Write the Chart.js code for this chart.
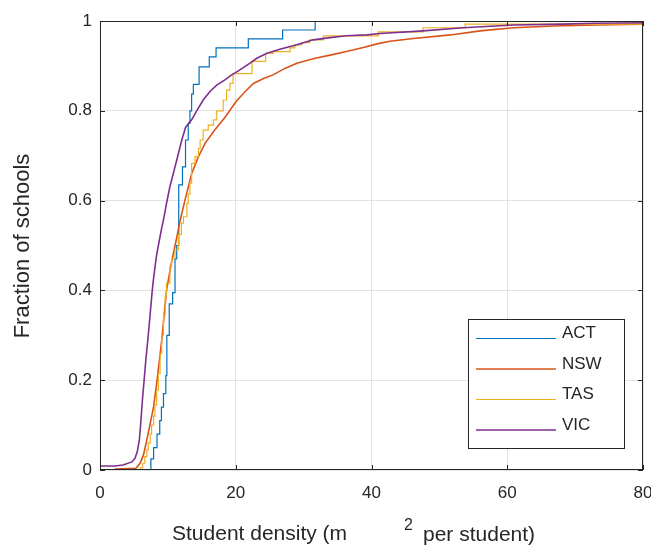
<!DOCTYPE html>
<html>
<head>
<meta charset="utf-8">
<script src="https://cdn.jsdelivr.net/npm/chart.js@4/dist/chart.umd.min.js"></script>
<style>
  html, body { margin: 0; padding: 0; background: #fff; }
</style>
</head>
<body>
<canvas id="myChart" width="651" height="550"></canvas>
<script>
// ECDF of student density
var labels = ["ACT", "NSW", "TAS", "VIC"];

var actX = [7.5, 7.5, 7.9, 8.4, 8.8, 9.05, 9.35, 9.7, 9.85, 10.2, 10.7, 11.05, 11.3, 11.6, 12.15, 12.6, 13.0, 13.25, 13.5, 13.75, 14.6, 16.1, 17.1, 21.85, 26.9, 31.7];
var actY = [0, 0.025, 0.05, 0.08, 0.11, 0.14, 0.17, 0.21, 0.3, 0.37, 0.395, 0.47, 0.5, 0.635, 0.675, 0.735, 0.772, 0.8, 0.837, 0.859, 0.898, 0.92, 0.94, 0.96, 0.98, 1.0];

var nswX = [2.2, 5.3, 5.9, 6.4, 6.9, 7.4, 7.9, 8.35, 8.75, 9.1, 9.8, 10.5, 11.2, 11.8, 12.5, 13.5, 14.5, 15.5, 16.9, 18.4, 20.1, 21.4, 22.6, 24.1, 25.5, 27.3, 29.0, 31.7, 33.9, 36.3, 38.8, 40.8, 42.7, 46.2, 51.6, 56.0, 60.9, 66.8, 73.2, 80];
var nswY = [0.002, 0.004, 0.015, 0.033, 0.067, 0.104, 0.141, 0.193, 0.245, 0.29, 0.4, 0.46, 0.51, 0.555, 0.6, 0.66, 0.698, 0.728, 0.757, 0.785, 0.822, 0.843, 0.861, 0.872, 0.88, 0.895, 0.906, 0.917, 0.924, 0.932, 0.941, 0.949, 0.955, 0.961, 0.969, 0.978, 0.985, 0.989, 0.991, 0.993];

var tasX = [6.0, 6.0, 6.3, 6.6, 6.9, 7.1, 7.4, 7.6, 7.9, 8.1, 8.35, 8.6, 8.85, 9.1, 9.35, 9.6, 9.8, 10.3, 10.55, 11.05, 11.55, 12.0, 12.3, 12.8, 13.0, 13.25, 13.5, 14.0, 14.5, 14.75, 15.2, 15.95, 16.7, 17.2, 18.15, 18.65, 19.15, 19.6, 22.4, 24.4, 25.5, 28.0, 28.7, 29.7, 30.9, 32.9, 41.0, 47.6, 53.8, 85];
var tasY = [0, 0.005, 0.015, 0.03, 0.045, 0.06, 0.08, 0.1, 0.12, 0.145, 0.178, 0.215, 0.26, 0.3, 0.345, 0.386, 0.416, 0.453, 0.471, 0.49, 0.525, 0.55, 0.564, 0.594, 0.615, 0.639, 0.683, 0.698, 0.716, 0.735, 0.757, 0.768, 0.78, 0.8, 0.824, 0.846, 0.861, 0.883, 0.91, 0.928, 0.932, 0.94, 0.947, 0.952, 0.958, 0.967, 0.976, 0.985, 0.993, 0.993];

var vicX = [0, 2.2, 3.4, 4.7, 5.15, 5.5, 5.8, 6.0, 6.25, 6.5, 6.75, 7.05, 7.35, 7.55, 7.75, 8.0, 8.3, 8.6, 9.1, 9.35, 9.8, 10.3, 11.05, 11.55, 12.05, 12.6, 13.5, 14.25, 15.2, 16.2, 17.2, 18.4, 19.4, 20.5, 22.1, 23.1, 24.6, 26.5, 29.0, 31.4, 33.9, 36.3, 39.3, 41.25, 47.6, 53.5, 60.9, 68.3, 72.7, 80];
var vicY = [0.009, 0.009, 0.011, 0.018, 0.026, 0.041, 0.067, 0.104, 0.156, 0.2, 0.245, 0.29, 0.34, 0.375, 0.408, 0.44, 0.475, 0.5, 0.54, 0.557, 0.594, 0.631, 0.675, 0.705, 0.735, 0.763, 0.78, 0.8, 0.824, 0.843, 0.857, 0.869, 0.88, 0.89, 0.906, 0.917, 0.928, 0.937, 0.947, 0.958, 0.963, 0.967, 0.969, 0.972, 0.978, 0.985, 0.991, 0.993, 0.995, 0.996];

var xTicks = [0, 20, 40, 60, 80];
var yTicks = [0, 0.2, 0.4, 0.6, 0.8, 1];

var colors = ["#0072BD", "#D95319", "#EDB120", "#7E2F8E"];
var font = "'Liberation Sans', Arial, Helvetica, sans-serif";
var ink = "#262626";

function pts(xs, ys) {
  return xs.map(function(v, i) { return { x: v, y: ys[i] }; });
}

// MATLAB-style box, inward ticks, legend box and axis titles
var matlabLook = {
  id: 'matlabLook',
  afterDraw: function(chart) {
    var ctx = chart.ctx;
    var a = chart.chartArea;
    var xs = chart.scales.x, ys = chart.scales.y;
    ctx.save();
    ctx.strokeStyle = ink;
    ctx.lineWidth = 1;
    ctx.beginPath();
    xTicks.forEach(function(v) {
      var px = Math.round(xs.getPixelForValue(v)) + 0.5;
      ctx.moveTo(px, a.bottom); ctx.lineTo(px, a.bottom - 5);
      ctx.moveTo(px, a.top); ctx.lineTo(px, a.top + 5);
    });
    yTicks.forEach(function(v) {
      var py = Math.round(ys.getPixelForValue(v)) + 0.5;
      ctx.moveTo(a.left, py); ctx.lineTo(a.left + 5, py);
      ctx.moveTo(a.right, py); ctx.lineTo(a.right - 5, py);
    });
    ctx.stroke();
    ctx.strokeRect(Math.round(a.left) + 0.5, Math.round(a.top) + 0.5,
                   Math.round(a.width) - 1, Math.round(a.height) - 1);

    // legend
    var lx = 468.5, ly = 319.5, lw = 156, lh = 129;
    ctx.fillStyle = "#fff";
    ctx.fillRect(lx, ly, lw, lh);
    ctx.strokeRect(lx, ly, lw, lh);
    ctx.font = "17px " + font;
    ctx.textBaseline = "middle";
    ctx.textAlign = "left";
    chart.data.datasets.forEach(function(ds, i) {
      var yy = 338.5 + i * 30.5;
      ctx.strokeStyle = ds.borderColor;
      ctx.lineWidth = ds.borderWidth;
      ctx.beginPath();
      ctx.moveTo(476, yy); ctx.lineTo(556, yy);
      ctx.stroke();
      ctx.fillStyle = ink;
      ctx.fillText(ds.label, 562, yy - 5);
    });

    // axis titles
    ctx.fillStyle = ink;
    ctx.textBaseline = "alphabetic";
    ctx.font = "21px " + font;
    ctx.fillText("Student density (m", 172, 540);
    ctx.fillText("per student)", 423, 541);
    ctx.font = "16px " + font;
    ctx.fillText("2", 404, 530);
    ctx.translate(29, 246);
    ctx.rotate(-Math.PI / 2);
    ctx.font = "22px " + font;
    ctx.textAlign = "center";
    ctx.fillText("Fraction of schools", 0, 0);
    ctx.restore();
  }
};

var ctx = document.getElementById("myChart");

var sets = [
  { x: actX, y: actY, w: 1.2, step: true },
  { x: nswX, y: nswY, w: 1.6, step: false },
  { x: tasX, y: tasY, w: 1.2, step: true },
  { x: vicX, y: vicY, w: 1.6, step: false }
];

var myChart = new Chart(ctx, {
  type: 'line',
  data: {
    datasets: sets.map(function(s, i) {
      return {
        label: labels[i],
        data: pts(s.x, s.y),
        borderColor: colors[i],
        backgroundColor: colors[i],
        borderWidth: s.w,
        stepped: s.step,
        pointRadius: 0,
        tension: 0,
        fill: false,
        order: 3 - i
      };
    })
  },
  options: {
    responsive: false,
    animation: false,
    layout: { padding: { top: 21, right: 8, left: 0, bottom: 0 } },
    plugins: {
      legend: { display: false },
      tooltip: { enabled: false }
    },
    scales: {
      x: {
        type: 'linear',
        min: 0,
        max: 80,
        afterBuildTicks: function(s) { s.ticks = xTicks.map(function(v) { return { value: v }; }); },
        afterFit: function(s) { s.height = 80; s.paddingLeft = 0; s.paddingRight = 0; },
        ticks: { color: ink, font: { family: font, size: 17 }, padding: 13, maxRotation: 0,
                 callback: function(v) { return String(v); } },
        grid: { color: "#e3e3e3", lineWidth: 1, drawTicks: false },
        border: { display: false }
      },
      y: {
        type: 'linear',
        min: 0,
        max: 1,
        afterBuildTicks: function(s) { s.ticks = yTicks.map(function(v) { return { value: v }; }); },
        afterFit: function(s) { s.width = 100; s.paddingTop = 0; s.paddingBottom = 0; },
        ticks: { color: ink, font: { family: font, size: 17 }, padding: 8,
                 callback: function(v) { return String(v); } },
        grid: { color: "#e3e3e3", lineWidth: 1, drawTicks: false },
        border: { display: false }
      }
    }
  },
  plugins: [matlabLook]
});
</script>
</body>
</html>
